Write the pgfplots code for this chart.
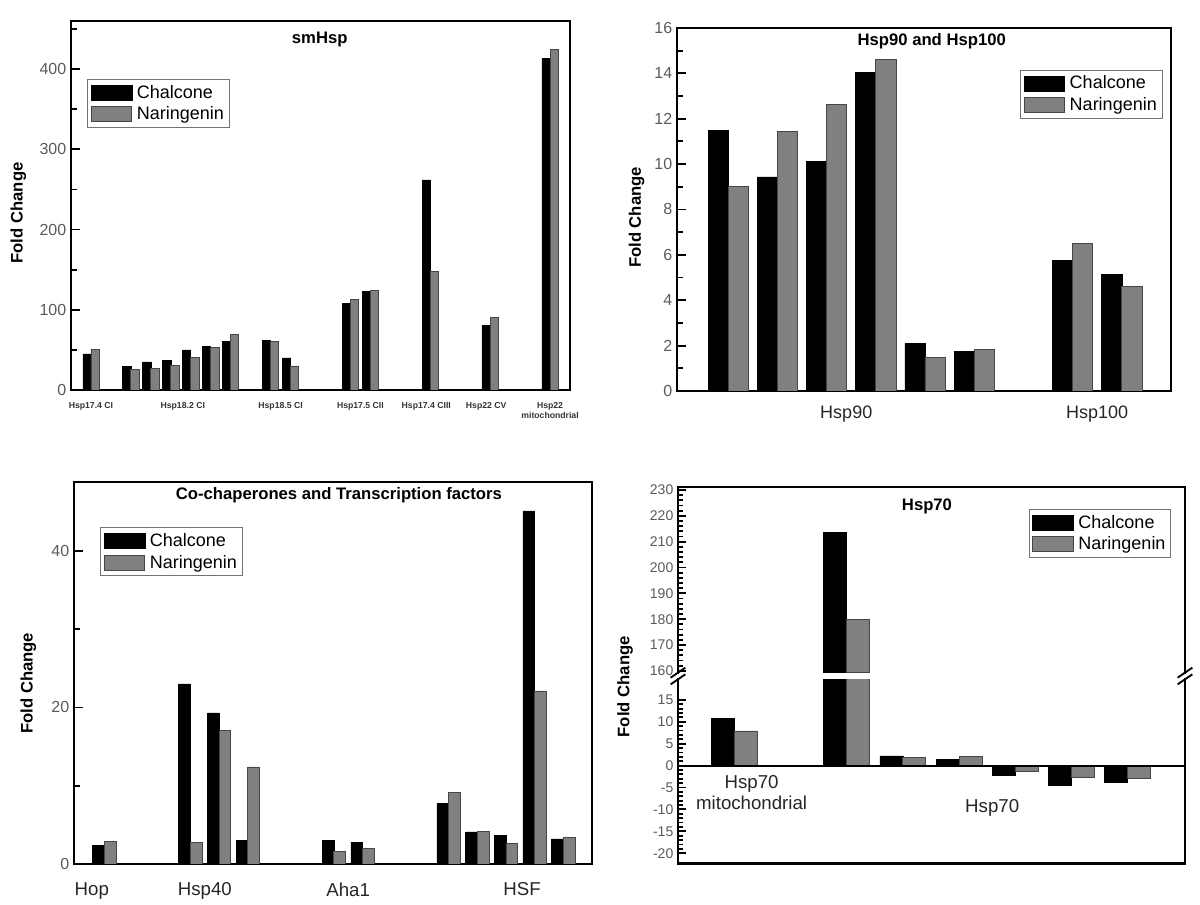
\documentclass[border=0pt]{standalone}
\usepackage{fontspec}
\setmainfont{Liberation Sans}
\usepackage{pgfplots}
\usepackage{pgfplotstable}
\pgfplotsset{compat=1.18}
\definecolor{bargray}{RGB}{128,128,128}
\definecolor{barline}{RGB}{70,70,70}
\definecolor{ticktext}{RGB}{90,90,90}

\pgfplotsset{
  panel/.style={
    scale only axis, anchor=south west,
    axis line style={line width=2pt, line cap=rect},
    ytick pos=left, tick align=inside,
    major tick length=7pt, minor tick length=4.2pt,
    every tick/.append style={black, line width=1.4pt},
    xtick style={draw=none},
    /pgf/number format/assume math mode=true,
    yticklabel style={font=\fontsize{12}{12}\selectfont, text=ticktext},
    xticklabel style={font=\fontsize{13.5}{15}\selectfont, text=black!85},
    ybar=0pt, bar width=0.41,
    legend cell align=left,
    legend image code/.code={\draw[##1] (0pt,-5.6pt) rectangle (30.5pt,5.6pt);},
    legend style={draw=black!55, line width=0.7pt,
      font=\fontsize{13.5}{14}\selectfont, inner sep=2.5pt, row sep=2pt,
      column sep=2pt, nodes={inner sep=1.5pt}},
  },
  blk/.style={fill=black, draw=black, line width=0.4pt},
  gry/.style={fill=bargray, draw=barline, line width=0.6pt},
}

\pgfplotstableread{
x black gray
0 45 51
2 29 26
3 35 27
4 37 31
5 50 40
6 54 52.5
7 61 69
9 62 61
10 40 30
13 108 113
14 123 124
17 262 148
20 81 90
23 413 424
}\smhsp

\pgfplotstableread{
x black gray
0 11.47 9.02
1 9.44 11.44
2 10.12 12.63
3 14.05 14.63
4 2.11 1.48
5 1.76 1.85
7 5.74 6.50
8 5.15 4.61
}\hspninety

\pgfplotstableread{
x black gray
0 2.34 2.9
3 23.0 2.7
4 19.3 17.1
5 3.0 12.4
8 3.0 1.6
9 2.8 2.0
12 7.7 9.1
13 4.1 4.1
14 3.7 2.6
15 45.1 22.1
16 3.2 3.4
}\cochap

\pgfplotstableread{
x black gray
0 10.7 7.9
2 213.5 179.8
3 2.2 1.8
4 1.5 2.0
5 -2.1 -1.4
6 -4.6 -2.7
7 -3.7 -2.9
}\hspseventy

\begin{document}
\begin{tikzpicture}
\path[use as bounding box] (0,0) rectangle (900pt,678.75pt);

% ---------------- smHsp ----------------
\begin{axis}[panel,
  at={(53.25pt,386.25pt)}, width=374.25pt, height=276.75pt,
  xmin=-1, xmax=24, ymin=0, ymax=460,
  ytick={0,100,200,300,400}, minor ytick={50,150,250,350,450},
  xtick={0,4.6,9.5,13.5,16.8,19.8,23},
  xticklabels={Hsp17.4 CI, Hsp18.2 CI, Hsp18.5 CI, Hsp17.5 CII, Hsp17.4 CIII, Hsp22 CV, {Hsp22\\mitochondrial}},
  xticklabel style={font=\bfseries\fontsize{6.5}{7.5}\selectfont, text=black!80, align=center, anchor=north, yshift=1pt},
  legend style={at={(0.032,0.842)}, anchor=north west},
]
\addplot[blk] table[x=x,y=black] {\smhsp};
\addplot[gry] table[x=x,y=gray] {\smhsp};
\legend{Chalcone, Naringenin}
\end{axis}

% ---------------- Hsp90 and Hsp100 ----------------
\begin{axis}[panel,
  at={(507.75pt,385.5pt)}, width=370.5pt, height=272.25pt,
  xmin=-1.04, xmax=9, ymin=0, ymax=16,
  ytick={0,2,...,16}, minor ytick={1,3,...,15},
  xtick={2.4,7.5}, xticklabels={Hsp90, Hsp100},
  xticklabel style={yshift=-0.5pt},
  legend style={at={(0.983,0.884)}, anchor=north east},
]
\addplot[blk] table[x=x,y=black] {\hspninety};
\addplot[gry] table[x=x,y=gray] {\hspninety};
\legend{Chalcone, Naringenin}
\end{axis}

% ---------------- Co-chaperones ----------------
\begin{axis}[panel,
  at={(55.5pt,30.75pt)}, width=388.5pt, height=286.5pt,
  xmin=-1.06, xmax=17, ymin=0, ymax=48.8,
  ytick={0,20,40}, minor ytick={10,30},
  xtick={-0.44,3.5,8.5,14.56}, xticklabels={Hop, Hsp40, Aha1, HSF},
  xticklabel style={font=\fontsize{14}{15}\selectfont, yshift=-3.5pt},
  legend style={at={(0.05,0.881)}, anchor=north west},
]
\addplot[blk] table[x=x,y=black] {\cochap};
\addplot[gry] table[x=x,y=gray] {\cochap};
\legend{Chalcone, Naringenin}
\end{axis}

% ---------------- Hsp70 (upper, broken axis) ----------------
\begin{axis}[panel, name=up,
  at={(508.5pt,174.225pt)}, width=380.25pt, height=139.3pt,
  separate axis lines, x axis line style={draw=none},
  xmin=-1, xmax=8.02, ymin=159.3, ymax=231.2,
  ytick={160,170,...,230}, minor y tick num=4,
  major tick length=6pt, minor tick length=3.6pt,
  yticklabel style={font=\fontsize{10.5}{10.5}\selectfont},
  xtick=\empty,
  legend style={at={(0.973,0.88)}, anchor=north east},
]
\addplot[blk, restrict y to domain=100:300] table[x=x,y=black] {\hspseventy};
\addplot[gry, restrict y to domain=100:300] table[x=x,y=gray] {\hspseventy};
\legend{Chalcone, Naringenin}
\end{axis}

% ---------------- Hsp70 (lower) ----------------
\begin{axis}[panel, name=lo,
  at={(508.5pt,31.275pt)}, width=380.25pt, height=138pt,
  separate axis lines, x axis line style={draw=none},
  xmin=-1, xmax=8.02, ymin=-22.3, ymax=19.7,
  ytick={-20,-15,...,15}, minor y tick num=4,
  major tick length=6pt, minor tick length=3.6pt,
  yticklabel style={font=\fontsize{10.5}{10.5}\selectfont},
  xtick=\empty,
]
\addplot[blk] table[x=x,y=black] {\hspseventy};
\addplot[gry] table[x=x,y=gray] {\hspseventy};
\addplot[sharp plot, black, line width=1.4pt] coordinates {(-1,0) (8.02,0)};
\node[align=center, font=\fontsize{14}{16}\selectfont, text=black!85] at (axis cs:0.31,-6.1) {Hsp70\\mitochondrial};
\node[font=\fontsize{14}{16}\selectfont, text=black!85] at (axis cs:4.59,-9.66) {Hsp70};
\end{axis}

% frame lines of the broken axis
\draw[line width=2pt, line cap=rect] (up.north west) -- (up.north east);
\draw[line width=2pt, line cap=rect] (lo.south west) -- (lo.south east);
% break marks
\foreach \xx in {508.5pt, 888.75pt}{
  \draw[line width=1.4pt] ([xshift=-5.5pt]\xx,170.5pt) -- ([xshift=5.5pt]\xx,178pt);
  \draw[line width=1.4pt] ([xshift=-5.5pt]\xx,165.5pt) -- ([xshift=5.5pt]\xx,173pt);
}

% titles
\node[font=\bfseries\fontsize{12.5}{14}\selectfont] at (239.8pt,648.75pt) {smHsp};
\node[font=\bfseries\fontsize{12.5}{14}\selectfont] at (698.8pt,647.5pt) {Hsp90 and Hsp100};
\node[font=\bfseries\fontsize{12.5}{14}\selectfont] at (254.2pt,307.5pt) {Co-chaperones and Transcription factors};
\node[font=\bfseries\fontsize{12.5}{14}\selectfont] at (695.25pt,299.25pt) {Hsp70};

% y labels
\node[rotate=90, font=\bfseries\fontsize{12.5}{14}\selectfont] at (13.7pt,519pt) {Fold Change};
\node[rotate=90, font=\bfseries\fontsize{12.5}{14}\selectfont] at (477.5pt,515.6pt) {Fold Change};
\node[rotate=90, font=\bfseries\fontsize{12.5}{14}\selectfont] at (21.2pt,166.3pt) {Fold Change};
\node[rotate=90, font=\bfseries\fontsize{12.5}{14}\selectfont] at (468.75pt,163.7pt) {Fold Change};
\end{tikzpicture}
\end{document}
